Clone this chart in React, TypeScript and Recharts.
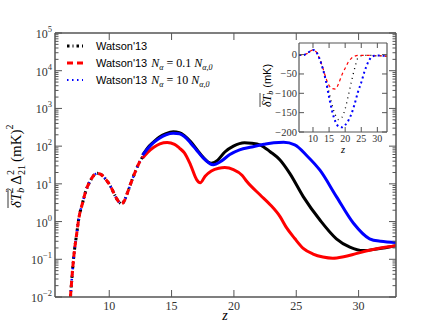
import React from "react";
import { LineChart, Line, XAxis, YAxis, Legend, Label } from "recharts";

// shared low-z part (all three models coincide here)
const zLow = [6.89, 7.03, 7.18, 7.38, 7.57, 7.87, 8.16, 8.46, 8.75, 9.05, 9.34, 9.64, 9.93, 10.23, 10.52, 10.82, 11.0, 11.2, 11.5, 11.8, 12.09, 12.38, 12.68];
const powerLow = [0.01, 0.04, 0.14, 0.45, 1.26, 3.2, 7.1, 11.7, 16.6, 19, 17.8, 14.1, 10.7, 7.1, 4.5, 3.2, 2.95, 3.5, 6.3, 12, 21, 35, 52];

const zBlack = [12.68, 13.08, 13.57, 14.06, 14.55, 15.14, 15.63, 16.03, 16.52, 17.01, 17.5, 18.19, 18.68, 19.27, 19.96, 20.84, 21.43, 22.13, 22.91, 23.7, 24.48, 25.56, 26.9, 28.22, 29.3, 30.38, 31.57, 33];
const powerBlack = [58, 90, 130, 178, 215, 240, 228, 190, 132, 83, 52, 35, 42, 70, 100, 123, 120, 107, 71, 43, 19, 4.6, 1.1, 0.35, 0.21, 0.17, 0.19, 0.23];

const zRed = [12.68, 13.08, 13.57, 14.06, 14.65, 15.24, 15.63, 16.03, 16.52, 17.01, 17.3, 17.69, 18.19, 18.78, 19.27, 19.96, 20.65, 21.04, 22.13, 22.91, 23.7, 24.19, 24.88, 25.56, 26.35, 27.14, 27.93, 28.8, 29.79, 30.88, 31.76, 33];
const powerRed = [48, 68, 93, 115, 125, 112, 89, 66, 32, 13, 10.7, 16, 22, 26, 27, 24, 17, 11.5, 5, 2.8, 1.35, 0.71, 0.355, 0.195, 0.138, 0.115, 0.107, 0.117, 0.141, 0.174, 0.2, 0.23];

const zBlue = [12.68, 13.08, 13.57, 14.06, 14.55, 15.14, 15.63, 16.03, 16.52, 17.01, 17.5, 18.34, 18.98, 19.67, 20.45, 21.43, 22.42, 23.2, 23.99, 24.88, 25.87, 26.9, 28.22, 29.59, 30.88, 31.76, 33];
const powerBlue = [58, 85, 125, 165, 200, 220, 214, 180, 122, 78, 50, 32, 40, 60, 80, 95, 112, 123, 126, 108, 55, 23, 4.6, 0.9, 0.35, 0.3, 0.28];

// inset: mean brightness temperature (mK)
const zInset = [5.65, 7, 8, 9, 10, 11, 12, 13, 14, 15, 16, 17, 18, 19, 20, 21, 22, 23, 24, 25, 26, 27, 28, 29, 30, 31, 32, 33];
const tbBlack = [-1, -1, 2, 8, 12, 7, -10, -34, -63, -98, -132, -157, -168, -162, -140, -105, -68, -34, -8, -3, -2, -2, -2, -3, -3, -3, -4, -4];
const tbRed = [-1, -1, 2, 8, 12, 7, -10, -33, -60, -80, -88, -89, -74, -52, -35, -19, -9, -4, -2, -2, -2, -2, -2, -3, -3, -3, -4, -4];
const tbBlue = [-1, -1, 2, 8, 12, 7, -10, -35, -68, -110, -148, -174, -186, -188, -182, -170, -152, -126, -96, -72, -44, -22, -8, -3, -2, -2, -3, -3];

const zTicks = [10, 15, 20, 25, 30];
const yMajor = [0.01, 0.1, 1, 10, 100, 1000, 10000, 100000];
const insetYTicks = [-200, -150, -100, -50, 0];

const yTicks: number[] = [];
yMajor.forEach((m, i) => {
  yTicks.push(m);
  if (i < yMajor.length - 1) for (let k = 2; k <= 9; k++) yTicks.push(k * m);
});

const rows = (zs: number[], vs: number[]) => zs.map((z, i) => ({ z, v: vs[i] }));

const AXIS = "#555";
const SERIF = "'Liberation Serif', 'DejaVu Serif', serif";
const SANS = "'Liberation Sans', Arial, sans-serif";
const Z_DOMAIN = [5.65, 33];

const isMajor = (v: number) => yMajor.some((m) => Math.abs(v - m) < m * 1e-6);
const minus = (v: number) => (v < 0 ? "\u2212" + Math.abs(v) : String(v));

function LogTickLeft({ x, y, payload }: any) {
  const v = payload.value;
  const major = isMajor(v);
  const e = Math.round(Math.log10(v));
  return (
    <g>
      <line x1={x} x2={x + (major ? 7 : 3.5)} y1={y} y2={y} stroke={AXIS} />
      {major && (
        <text x={x - 3} y={y + 5} textAnchor="end" fontFamily={SERIF} fontSize={12} fill="#333">
          10<tspan dy={-6} fontSize={8.5}>{minus(e)}</tspan>
        </text>
      )}
    </g>
  );
}

function LogTickRight({ x, y, payload }: any) {
  const major = isMajor(payload.value);
  return <line x1={x} x2={x - (major ? 7 : 3.5)} y1={y} y2={y} stroke={AXIS} />;
}

const makeXTick = (len: number, fs: number, dy: number) =>
  function XTick({ x, y, payload }: any) {
    return (
      <g>
        <line x1={x} x2={x} y1={y} y2={y - len} stroke={AXIS} />
        <text x={x} y={y + dy} textAnchor="middle" fontFamily={SERIF} fontSize={fs} fill="#333">
          {payload.value}
        </text>
      </g>
    );
  };

const makeTopTick = (len: number) =>
  function TopTick({ x, y }: any) {
    return <line x1={x} x2={x} y1={y} y2={y + len} stroke={AXIS} />;
  };

function InsetYTick({ x, y, payload }: any) {
  return (
    <g>
      <line x1={x} x2={x + 5} y1={y} y2={y} stroke={AXIS} />
      <text x={x - 2} y={y + 3.5} textAnchor="end" fontFamily={SERIF} fontSize={10.5} fill="#333">
        {minus(payload.value)}
      </text>
    </g>
  );
}

function InsetYTickRight({ x, y }: any) {
  return <line x1={x} x2={x - 5} y1={y} y2={y} stroke={AXIS} />;
}

function MainYLabel() {
  return (
    <g transform="translate(21,164) rotate(-90)">
      <text x={-44} y={0} fontFamily={SERIF} fontSize={15} fill="#000">
        <tspan fontStyle="italic">δT</tspan>
        <tspan fontSize={10} dy={3} fontStyle="italic">b</tspan>
        <tspan fontSize={10} dy={-11} dx={-5}>2</tspan>
        <tspan dy={8} dx={3}>Δ</tspan>
        <tspan fontSize={10} dy={-7}>2</tspan>
        <tspan fontSize={10} dy={11} dx={-5}>21</tspan>
        <tspan dy={-4} dx={3}>(mK)</tspan>
        <tspan fontSize={10} dy={-8}>2</tspan>
      </text>
      <line x1={-44} x2={-26} y1={-13} y2={-13} stroke="#000" strokeWidth={0.8} />
    </g>
  );
}

function InsetYLabel() {
  return (
    <g transform="translate(271,83) rotate(-90)">
      <text x={-24} y={0} fontFamily={SERIF} fontSize={12} fill="#000">
        <tspan fontStyle="italic">δT</tspan>
        <tspan fontSize={8} dy={2} fontStyle="italic">b</tspan>
        <tspan dy={-2} dx={3} fontFamily={SANS} fontSize={11}>(mK)</tspan>
      </text>
      <line x1={-24} x2={-10} y1={-11} y2={-11} stroke="#000" strokeWidth={0.7} />
    </g>
  );
}

const legendItems = [
  { color: "#000", dash: "2.5 3 1 3", width: 3, na: "" },
  { color: "#ff0000", dash: "6 4", width: 3, na: "0.1" },
  { color: "#0000ff", dash: "1.5 3.5", width: 2, na: "10" },
];

function LegendBox() {
  return (
    <svg width={220} height={54}>
      {legendItems.map((it, i) => {
        const y = 10 + i * 17;
        return (
          <g key={i}>
            <line x1={0} x2={16} y1={y} y2={y} stroke={it.color} strokeWidth={it.width} strokeDasharray={it.dash} />
            <text x={29} y={y + 4} fontFamily={SANS} fontSize={11} fill="#000">
              Watson'13
              {it.na && (
                <>
                  <tspan dx={4} fontFamily={SERIF} fontStyle="italic" fontSize={12}>N</tspan>
                  <tspan fontFamily={SERIF} fontStyle="italic" fontSize={8} dy={2.5}>α</tspan>
                  <tspan fontFamily={SERIF} fontSize={12} dy={-2.5}>{` = ${it.na} `}</tspan>
                  <tspan fontFamily={SERIF} fontStyle="italic" fontSize={12}>N</tspan>
                  <tspan fontFamily={SERIF} fontStyle="italic" fontSize={8} dy={2.5}>α,0</tspan>
                </>
              )}
            </text>
          </g>
        );
      })}
    </svg>
  );
}

export default function App() {
  const low = rows(zLow, powerLow);
  return (
    <div style={{ position: "fixed", left: 0, top: 0, width: 440, height: 330, background: "#fff" }}>
      <LineChart width={440} height={330} margin={{ top: 32, right: 43, bottom: 32, left: 54 }}>
        <XAxis xAxisId="b" dataKey="z" type="number" domain={Z_DOMAIN} ticks={zTicks} allowDataOverflow height={1}
          axisLine={{ stroke: AXIS, strokeWidth: 1.5 }} tickLine={false} tickSize={0} tickMargin={0} tick={makeXTick(7, 12, 13)} interval={0}>
          <Label content={() => <text x={225} y={320} textAnchor="middle" fontFamily={SERIF} fontStyle="italic" fontSize={14}>z</text>} />
        </XAxis>
        <XAxis xAxisId="t" orientation="top" dataKey="z" type="number" domain={Z_DOMAIN} ticks={zTicks} allowDataOverflow height={1}
          axisLine={{ stroke: AXIS, strokeWidth: 1.5 }} tickLine={false} tickSize={0} tickMargin={0} tick={makeTopTick(7)} interval={0} />
        <YAxis yAxisId="l" type="number" scale="log" domain={[0.01, 100000]} ticks={yTicks} allowDataOverflow width={1}
          axisLine={{ stroke: AXIS, strokeWidth: 1.5 }} tickLine={false} tickSize={0} tickMargin={0} tick={LogTickLeft} interval={0}>
          <Label content={MainYLabel} />
        </YAxis>
        <YAxis yAxisId="r" orientation="right" type="number" scale="log" domain={[0.01, 100000]} ticks={yTicks} allowDataOverflow width={1}
          axisLine={{ stroke: AXIS, strokeWidth: 1.5 }} tickLine={false} tickSize={0} tickMargin={0} tick={LogTickRight} interval={0} />
        <Legend content={LegendBox} layout="horizontal" verticalAlign="middle" align="center" wrapperStyle={{ left: 67, top: 36, width: 220, height: 54 }} />
        <Line xAxisId="b" yAxisId="l" data={rows(zBlack, powerBlack)} dataKey="v" name="Watson'13" type="monotone" stroke="#000" strokeWidth={3} dot={false} isAnimationActive={false} />
        <Line xAxisId="b" yAxisId="l" data={rows(zRed, powerRed)} dataKey="v" name="Watson'13 Nα = 0.1 Nα,0" type="monotone" stroke="#ff0000" strokeWidth={3} dot={false} isAnimationActive={false} />
        <Line xAxisId="b" yAxisId="l" data={rows(zBlue, powerBlue)} dataKey="v" name="Watson'13 Nα = 10 Nα,0" type="monotone" stroke="#0000ff" strokeWidth={3} dot={false} isAnimationActive={false} />
        <Line xAxisId="b" yAxisId="l" data={low} dataKey="v" type="monotone" stroke="#000" strokeWidth={3} strokeDasharray="2.5 3 1 3" dot={false} legendType="none" isAnimationActive={false} />
        <Line xAxisId="b" yAxisId="l" data={low} dataKey="v" type="monotone" stroke="#0000ff" strokeWidth={2.5} strokeDasharray="1.5 4" dot={false} legendType="none" isAnimationActive={false} />
        <Line xAxisId="b" yAxisId="l" data={low} dataKey="v" type="monotone" stroke="#ff0000" strokeWidth={3} strokeDasharray="6 4" dot={false} legendType="none" isAnimationActive={false} />
      </LineChart>

      <div style={{ position: "absolute", left: 250, top: 30 }}>
        <LineChart width={145} height={130} margin={{ top: 12, right: 7, bottom: 27, left: 48 }}>
          <XAxis xAxisId="b" dataKey="z" type="number" domain={Z_DOMAIN} ticks={zTicks} allowDataOverflow height={1}
            axisLine={{ stroke: AXIS, strokeWidth: 1.2 }} tickLine={false} tickSize={0} tickMargin={0} tick={makeXTick(5, 10, 9.5)} interval={0}>
            <Label content={() => <text x={93} y={123} textAnchor="middle" fontFamily={SERIF} fontStyle="italic" fontSize={10.5}>z</text>} />
          </XAxis>
          <XAxis xAxisId="t" orientation="top" dataKey="z" type="number" domain={Z_DOMAIN} ticks={zTicks} allowDataOverflow height={1}
            axisLine={{ stroke: AXIS, strokeWidth: 1.2 }} tickLine={false} tickSize={0} tickMargin={0} tick={makeTopTick(5)} interval={0} />
          <YAxis yAxisId="l" type="number" domain={[-200, 30]} ticks={insetYTicks} allowDataOverflow width={1}
            axisLine={{ stroke: AXIS, strokeWidth: 1.2 }} tickLine={false} tickSize={0} tickMargin={0} tick={InsetYTick} interval={0} />
          <YAxis yAxisId="r" orientation="right" type="number" domain={[-200, 30]} ticks={insetYTicks} allowDataOverflow width={1}
            axisLine={{ stroke: AXIS, strokeWidth: 1.2 }} tickLine={false} tickSize={0} tickMargin={0} tick={InsetYTickRight} interval={0} />
          <Line xAxisId="b" yAxisId="l" data={rows(zInset, tbBlack)} dataKey="v" type="monotone" stroke="#000" strokeWidth={1.3} strokeDasharray="1 4" dot={false} isAnimationActive={false} />
          <Line xAxisId="b" yAxisId="l" data={rows(zInset, tbRed)} dataKey="v" type="monotone" stroke="#ff0000" strokeWidth={1.2} strokeDasharray="3 3" dot={false} isAnimationActive={false} />
          <Line xAxisId="b" yAxisId="l" data={rows(zInset, tbBlue)} dataKey="v" type="monotone" stroke="#0000ff" strokeWidth={2} strokeDasharray="2 3" dot={false} isAnimationActive={false} />
        </LineChart>
      </div>
      <svg width={440} height={330} style={{ position: "absolute", left: 0, top: 0, pointerEvents: "none" }}>
        <InsetYLabel />
      </svg>
    </div>
  );
}
